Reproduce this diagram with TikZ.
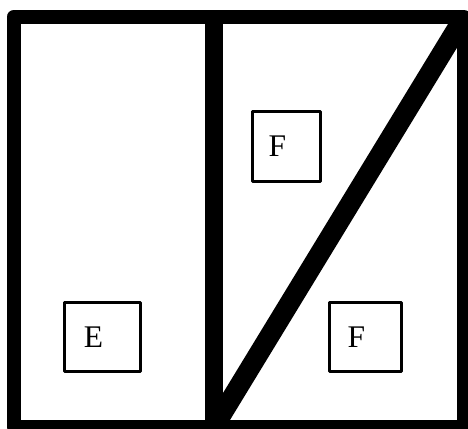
\documentclass[tikz,border=0pt]{standalone}
\usepackage{fontspec}
\setmainfont{Liberation Serif}
\usetikzlibrary{positioning}

\begin{document}
\begin{tikzpicture}[x=1pt, y=-1pt, line join=round]
\tikzset{
  cell/.style={draw, line width=3pt, minimum width=#1, minimum height=69pt, inner sep=0pt},
  letter/.style={font=\fontsize{31.5}{32}\selectfont, xshift=-9pt}
}
\useasboundingbox (0,0) rectangle (468,428);

% Outer frame
\draw[line width=14pt] (13.5,17) rectangle (464,427);

% Vertical divider
\draw[line width=18pt] (214,17) -- (214,427);

% Diagonal divider
\draw[line width=20pt] (214,427) -- (464,17);

% Regions
\node[cell=68pt, minimum height=70pt, label={[letter]center:F}] (ftop) at (286.5,146.5) {};
\node[cell=76pt, label={[letter]center:E}] (e) at (102.5,337) {};
\node[cell=72pt, label={[letter]center:F}] (fbot) at (365.5,337) {};

\end{tikzpicture}
\end{document}
